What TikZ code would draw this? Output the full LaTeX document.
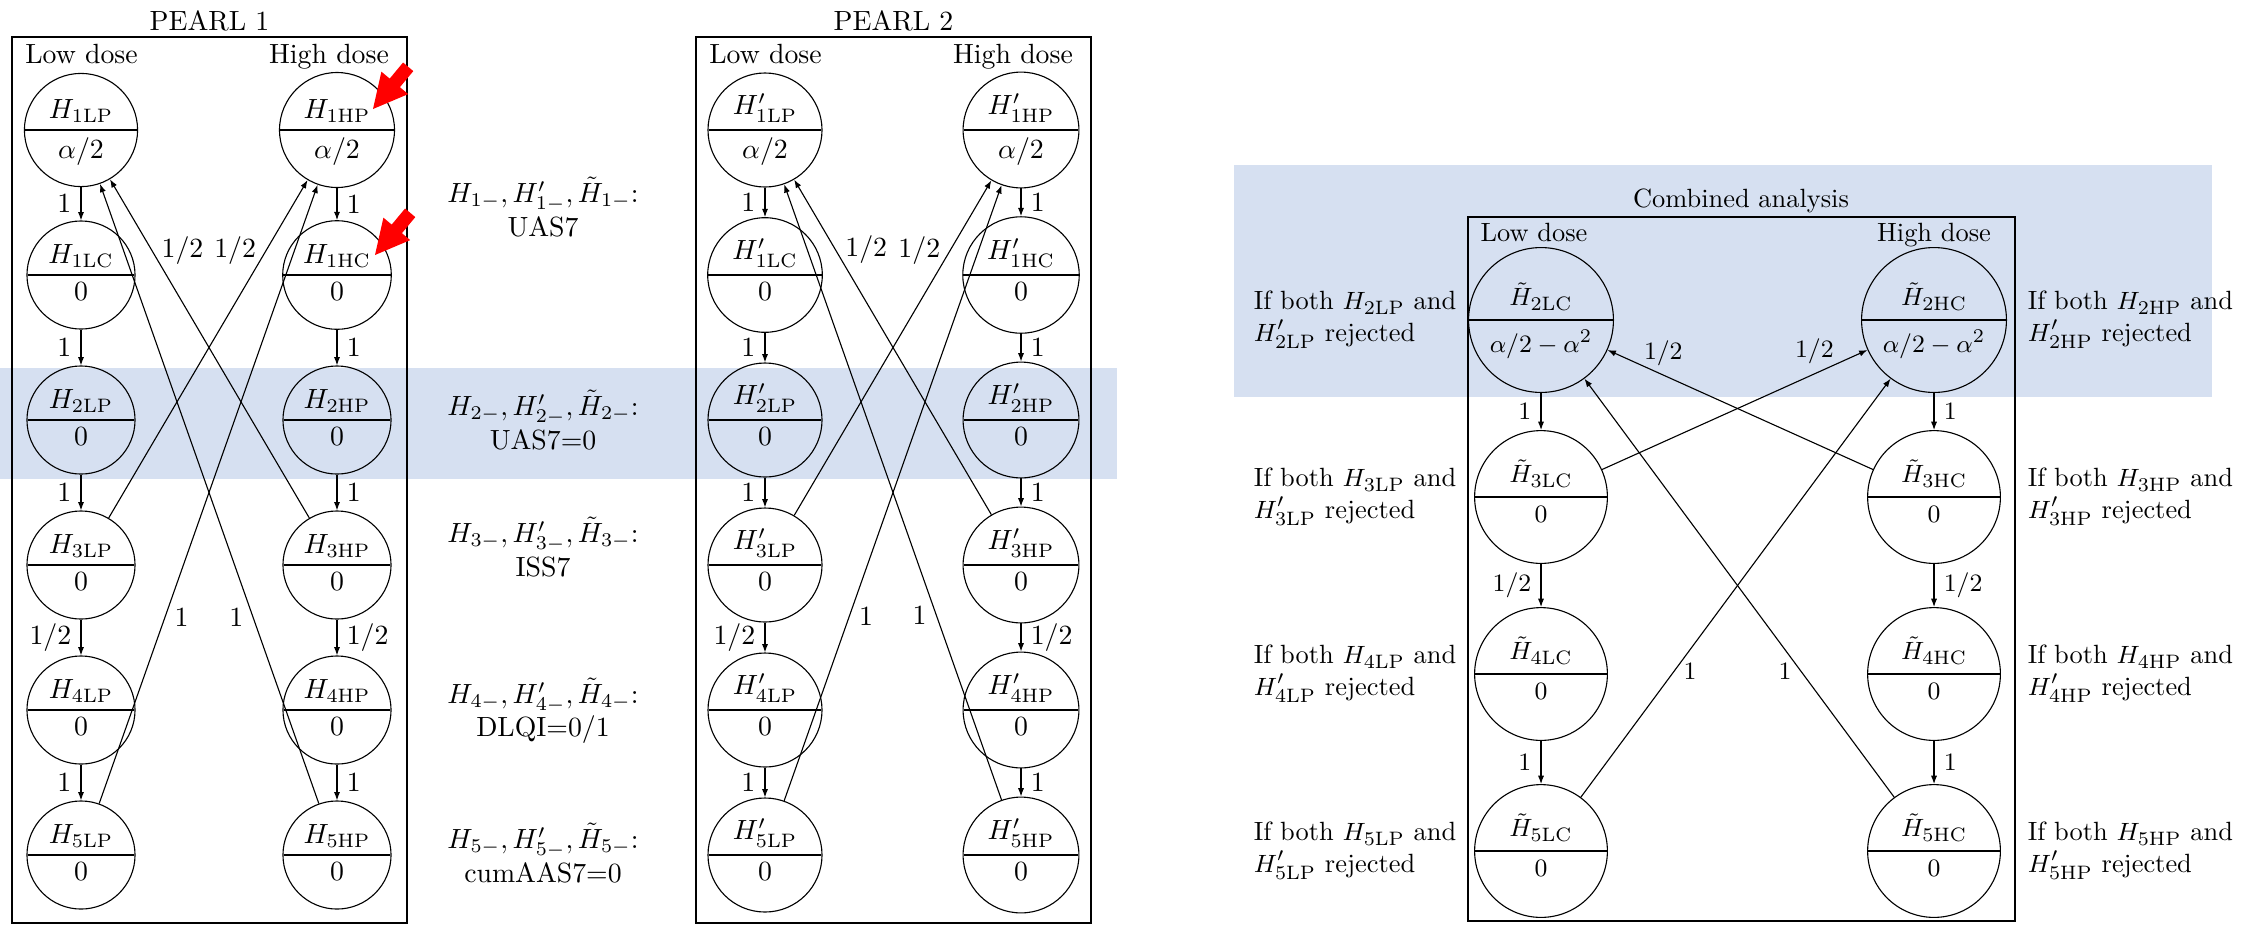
\documentclass[tikz,border=0pt]{standalone}
\usetikzlibrary{shapes.multipart,arrows.meta}
\definecolor{bandblue}{RGB}{214,224,241}
\begin{document}
\begin{tikzpicture}[x=0.36pt,y=-0.36pt,
  hyp/.style={circle split,draw,minimum size=38.9pt,inner xsep=2pt,inner ysep=2.5pt},
  chyp/.style={circle split,draw,minimum size=47.8pt,inner xsep=1pt,inner ysep=3.3pt},
  arr/.style={-{Latex[length=3pt,width=2.2pt]}},
  frame/.style={draw},
  mid/.style={align=center},
  cond/.style={align=left},
  band/.style={fill=bandblue},
  pin/.style={fill=red},
  small/.style={font=\fontsize{9.5}{11.4}\selectfont}]
\useasboundingbox (0,0) rectangle (2259,924);
% highlight bands
\fill[band] (0,368) rectangle (1117,479);
\fill[band] (1234,165) rectangle (2212,397);

% PEARL panels
\foreach \dx/\pr/\n/\t in {0//a/PEARL 1, 684/'/b/PEARL 2} {
\begin{scope}[shift={(\dx,0)}]
  \draw[frame] (12,37) rectangle (407,923);
  \node[anchor=base] (\n title) at (209.5,30) {\t};
  \node[anchor=base] (\n low) at (81.5,63) {Low dose};
  \node[anchor=base] (\n high) at (329,63) {High dose};
  \node[hyp] (\n1LP) at (81,130) {$H\pr_{1\mathrm{LP}}$\nodepart{lower}$\alpha/2$};
  \node[hyp] (\n1HP) at (337,130) {$H\pr_{1\mathrm{HP}}$\nodepart{lower}$\alpha/2$};
  \node[hyp] (\n1LC) at (81,275) {$H\pr_{1\mathrm{LC}}$\nodepart{lower}$0$};
  \node[hyp] (\n1HC) at (337,275) {$H\pr_{1\mathrm{HC}}$\nodepart{lower}$0$};
  \foreach \i/\y in {2/420,3/565,4/710,5/855} {
    \node[hyp] (\n\i LP) at (81,\y) {$H\pr_{\i\mathrm{LP}}$\nodepart{lower}$0$};
    \node[hyp] (\n\i HP) at (337,\y) {$H\pr_{\i\mathrm{HP}}$\nodepart{lower}$0$};
  }
  \draw[arr] (\n1LP) -- node[left]{$1$} (\n1LC);
  \draw[arr] (\n1LC) -- node[left]{$1$} (\n2LP);
  \draw[arr] (\n2LP) -- node[left]{$1$} (\n3LP);
  \draw[arr] (\n3LP) -- node[left]{$1/2$} (\n4LP);
  \draw[arr] (\n4LP) -- node[left]{$1$} (\n5LP);
  \draw[arr] (\n1HP) -- node[right]{$1$} (\n1HC);
  \draw[arr] (\n1HC) -- node[right]{$1$} (\n2HP);
  \draw[arr] (\n2HP) -- node[right]{$1$} (\n3HP);
  \draw[arr] (\n3HP) -- node[right]{$1/2$} (\n4HP);
  \draw[arr] (\n4HP) -- node[right]{$1$} (\n5HP);
  \draw[arr] (\n3HP) -- node[pos=0.79,right]{$1/2$} (\n1LP);
  \draw[arr] (\n3LP) -- node[pos=0.79,left]{$1/2$} (\n1HP);
  \draw[arr] (\n5LP) -- node[pos=0.3,right]{$1$} (\n1HP);
  \draw[arr] (\n5HP) -- node[pos=0.3,left]{$1$} (\n1LP);
\end{scope}
}

% red pointers
\fill[pin] (373,109) -- (408.2,94.1) -- (399.9,87.2) -- (413.3,71.1) -- (403.1,62.5) -- (389.7,78.6) -- (381.4,71.7) -- cycle;
\fill[pin,shift={(2,146)}] (373,109) -- (408.2,94.1) -- (399.9,87.2) -- (413.3,71.1) -- (403.1,62.5) -- (389.7,78.6) -- (381.4,71.7) -- cycle;

% middle descriptions
\node[mid] (m1) at (543,207) {$H_{1-}, H'_{1-}, \tilde{H}_{1-}$:\\UAS7};
\node[mid] (m2) at (543,420) {$H_{2-}, H'_{2-}, \tilde{H}_{2-}$:\\UAS7=0};
\node[mid] (m3) at (543,547) {$H_{3-}, H'_{3-}, \tilde{H}_{3-}$:\\ISS7};
\node[mid] (m4) at (543,711) {$H_{4-}, H'_{4-}, \tilde{H}_{4-}$:\\DLQI=0/1};
\node[mid] (m5) at (543,853) {$H_{5-}, H'_{5-}, \tilde{H}_{5-}$:\\cumAAS7=0};

% combined analysis
\begin{scope}[every node/.append style={small}]
\draw[frame] (1468,217) rectangle (2015,921);
\node[anchor=base] (ctitle) at (1741,207) {Combined analysis};
\node[anchor=base] (clow) at (1534,241) {Low dose};
\node[anchor=base] (chigh) at (1934,241) {High dose};
\node[chyp] (c2L) at (1541,320) {$\tilde H_{2\mathrm{LC}}$\nodepart{lower}$\alpha/2-\alpha^2$};
\node[chyp] (c2H) at (1934,320) {$\tilde H_{2\mathrm{HC}}$\nodepart{lower}$\alpha/2-\alpha^2$};
\foreach \i/\y in {3/497,4/674,5/851} {
  \node[chyp] (c\i L) at (1541,\y) {$\tilde H_{\i\mathrm{LC}}$\nodepart{lower}$0$};
  \node[chyp] (c\i H) at (1934,\y) {$\tilde H_{\i\mathrm{HC}}$\nodepart{lower}$0$};
}
\foreach \i/\y in {2/320,3/497,4/674,5/851} {
  \node[cond,anchor=east] (l\i) at (1466,\y) {If both $H_{\i\mathrm{LP}}$ and\\$H'_{\i\mathrm{LP}}$ rejected};
  \node[cond,anchor=west] (r\i) at (2018,\y) {If both $H_{\i\mathrm{HP}}$ and\\$H'_{\i\mathrm{HP}}$ rejected};
}
\draw[arr] (c2L) -- node[left]{$1$} (c3L);
\draw[arr] (c3L) -- node[left]{$1/2$} (c4L);
\draw[arr] (c4L) -- node[left]{$1$} (c5L);
\draw[arr] (c2H) -- node[right]{$1$} (c3H);
\draw[arr] (c3H) -- node[right]{$1/2$} (c4H);
\draw[arr] (c4H) -- node[right]{$1$} (c5H);
\draw[arr] (c3H) -- node[pos=0.79,above]{$1/2$} (c2L);
\draw[arr] (c3L) -- node[pos=0.8,above]{$1/2$} (c2H);
\draw[arr] (c5L) -- node[pos=0.3,right]{$1$} (c2H);
\draw[arr] (c5H) -- node[pos=0.3,left]{$1$} (c2L);
\end{scope}
\end{tikzpicture}
\end{document}
